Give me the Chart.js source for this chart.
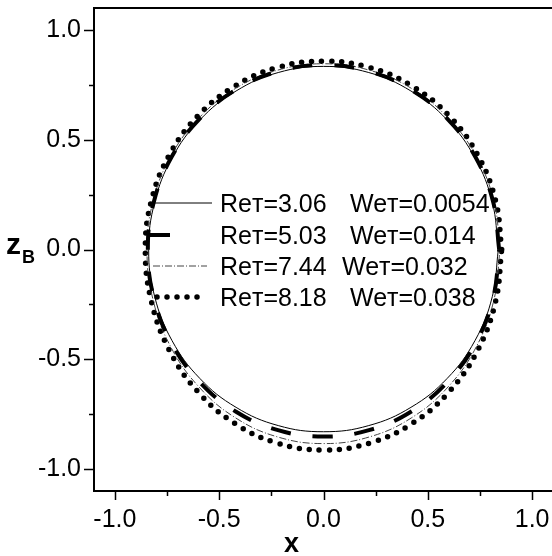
<!DOCTYPE html>
<html>
<head>
<meta charset="utf-8">
<script src="https://cdn.jsdelivr.net/npm/chart.js@4.4.1/dist/chart.umd.min.js"></script>
<style>
  html, body { margin: 0; padding: 0; background: #fff; overflow: hidden; }
  #wrap { position: relative; width: 553px; height: 556px; }
  canvas { display: block; }
  .ttl { position: absolute; font-family: "Liberation Sans", Arial, sans-serif; font-weight: bold; color: #000; line-height: 1; white-space: nowrap; }
</style>
</head>
<body>
<div id="wrap">
  <canvas id="c" width="553" height="556"></canvas>
  <div class="ttl" id="ytitle" style="left:6px; top:229px; font-size:30px;">z<span style="font-size:18px; position:relative; top:9px; left:1px;">B</span></div>
  <div class="ttl" id="xtitle" style="left:284px; top:530px; font-size:27px;">x</div>
</div>
<script>
// ---------- data ----------
const xMajorTicks = [-1.0, -0.5, 0.0, 0.5, 1.0];
const xMinorTicks = [-0.75, -0.25, 0.25, 0.75];
const yMajorTicks = [-1.0, -0.5, 0.0, 0.5, 1.0];
const yMinorTicks = [-0.75, -0.25, 0.25, 0.75];

const seriesNames = ["Reт=3.06", "Reт=5.03", "Reт=7.44", "Reт=8.18"];
const weNames = ["Weт=0.0054", "Weт=0.014", "Weт=0.032", "Weт=0.038"];

// Re=3.06, We=0.0054 (thin solid)
const x1 = [0.838, 0.809, 0.726, 0.593, 0.419, 0.217, 0.000, -0.217, -0.419, -0.593, -0.726, -0.809, -0.838, -0.809, -0.726, -0.593, -0.419, -0.217, 0.000, 0.217, 0.419, 0.593, 0.726, 0.809, 0.838];
const z1 = [0.000, 0.216, 0.417, 0.590, 0.722, 0.806, 0.834, 0.806, 0.722, 0.590, 0.417, 0.216, 0.000, -0.215, -0.415, -0.587, -0.719, -0.802, -0.830, -0.802, -0.719, -0.587, -0.415, -0.215, 0.000];

// Re=5.03, We=0.014 (thick dashed)
const x2 = [0.842, 0.813, 0.729, 0.595, 0.421, 0.218, 0.000, -0.218, -0.421, -0.595, -0.729, -0.813, -0.842, -0.813, -0.729, -0.595, -0.421, -0.218, 0.000, 0.218, 0.421, 0.595, 0.729, 0.813, 0.842];
const z2 = [0.000, 0.217, 0.420, 0.594, 0.727, 0.811, 0.840, 0.811, 0.727, 0.594, 0.420, 0.217, 0.000, -0.221, -0.426, -0.602, -0.738, -0.823, -0.852, -0.823, -0.738, -0.602, -0.426, -0.221, 0.000];

// Re=7.44, We=0.032 (thin dash-dot)
const x3 = [0.846, 0.817, 0.733, 0.598, 0.423, 0.219, 0.000, -0.219, -0.423, -0.598, -0.733, -0.817, -0.846, -0.817, -0.733, -0.598, -0.423, -0.219, 0.000, 0.219, 0.423, 0.598, 0.733, 0.817, 0.846];
const z3 = [0.000, 0.219, 0.423, 0.598, 0.733, 0.817, 0.846, 0.817, 0.733, 0.598, 0.423, 0.219, 0.000, -0.229, -0.442, -0.625, -0.766, -0.854, -0.884, -0.854, -0.766, -0.625, -0.442, -0.229, 0.000];

// Re=8.18, We=0.038 (round dots)
const x4 = [0.854, 0.825, 0.740, 0.604, 0.427, 0.221, 0.000, -0.221, -0.427, -0.604, -0.740, -0.825, -0.854, -0.825, -0.740, -0.604, -0.427, -0.221, 0.000, 0.221, 0.427, 0.604, 0.740, 0.825, 0.854];
const z4 = [0.000, 0.222, 0.429, 0.607, 0.743, 0.829, 0.858, 0.829, 0.743, 0.607, 0.429, 0.222, 0.000, -0.236, -0.457, -0.646, -0.791, -0.882, -0.913, -0.882, -0.791, -0.646, -0.457, -0.236, 0.000];

// ---------- build ----------
const pts = (xs, zs) => xs.map((v, i) => ({ x: v, y: zs[i] }));
const FONT = '"Liberation Sans", Arial, sans-serif';

const datasets = [
  { label: seriesNames[0], data: pts(x1, z1), borderColor: '#000', borderWidth: 1, borderDash: [], borderCapStyle: 'butt' },
  { label: seriesNames[1], data: pts(x2, z2), borderColor: '#000', borderWidth: 4, borderDash: [20, 22], borderCapStyle: 'butt' },
  { label: seriesNames[2], data: pts(x3, z3), borderColor: '#444', borderWidth: 1, borderDash: [7, 2, 1, 2], borderCapStyle: 'butt' },
  { label: seriesNames[3], data: pts(x4, z4), borderColor: '#000', borderWidth: 5.5, borderDash: [0, 10], borderCapStyle: 'round' }
].map(d => Object.assign(d, { showLine: true, fill: false, pointRadius: 0, tension: 0.4 }));

const legendPos = [
  { y: 203, x0: 149, x1: 212, tx: 220, wx: 350 },
  { y: 235, x0: 150, x1: 173, tx: 220, wx: 350 },
  { y: 266, x0: 153, x1: 207, tx: 220, wx: 342 },
  { y: 297, x0: 157, x1: 207, tx: 220, wx: 350 }
];

const framePlugin = {
  id: 'frame',
  afterDraw(chart) {
    const ctx = chart.ctx, a = chart.chartArea;
    const xs = chart.scales.x, ys = chart.scales.y;
    ctx.save();
    ctx.strokeStyle = '#000';
    ctx.lineWidth = 2;
    ctx.setLineDash([]);
    ctx.strokeRect(a.left, a.top, a.right - a.left, a.bottom - a.top);
    ctx.lineWidth = 1.5;
    ctx.beginPath();
    xMajorTicks.forEach(v => { const p = Math.round(xs.getPixelForValue(v)) + 0.5; ctx.moveTo(p, a.bottom); ctx.lineTo(p, a.bottom + 9); });
    xMinorTicks.forEach(v => { const p = Math.round(xs.getPixelForValue(v)) + 0.5; ctx.moveTo(p, a.bottom); ctx.lineTo(p, a.bottom + 5); });
    yMajorTicks.forEach(v => { const p = Math.round(ys.getPixelForValue(v)) + 0.5; ctx.moveTo(a.left, p); ctx.lineTo(a.left - 10, p); });
    yMinorTicks.forEach(v => { const p = Math.round(ys.getPixelForValue(v)) + 0.5; ctx.moveTo(a.left, p); ctx.lineTo(a.left - 5, p); });
    ctx.stroke();
    ctx.restore();
  }
};

const legendPlugin = {
  id: 'insideLegend',
  afterDatasetsDraw(chart) {
    const ctx = chart.ctx;
    ctx.save();
    chart.data.datasets.forEach((d, i) => {
      const L = legendPos[i];
      ctx.strokeStyle = d.borderColor;
      ctx.lineWidth = d.borderWidth;
      ctx.lineCap = d.borderCapStyle;
      ctx.setLineDash(d.borderDash);
      ctx.beginPath();
      ctx.moveTo(L.x0, L.y);
      ctx.lineTo(L.x1, L.y);
      ctx.stroke();
      ctx.setLineDash([]);
      ctx.fillStyle = '#000';
      ctx.font = '25px ' + FONT;
      ctx.textBaseline = 'alphabetic';
      ctx.fillText(seriesNames[i], L.tx, L.y + 9);
      ctx.fillText(weNames[i], L.wx, L.y + 9);
    });
    ctx.restore();
  }
};

new Chart(document.getElementById('c'), {
  type: 'scatter',
  data: { datasets },
  options: {
    responsive: false,
    animation: false,
    layout: { autoPadding: false, padding: { top: 8, right: 0, left: 0, bottom: 0 } },
    plugins: { legend: { display: false }, tooltip: { enabled: false } },
    scales: {
      x: {
        type: 'linear', min: -1.1, max: 1.1,
        afterBuildTicks: s => { s.ticks = xMajorTicks.map(v => ({ value: v })); },
        afterFit: s => { s.height = 65; s.paddingLeft = 0; s.paddingRight = 0; },
        grid: { display: false, drawTicks: false },
        border: { display: false },
        ticks: { color: '#000', font: { family: FONT, size: 25 }, padding: 14, maxRotation: 0, autoSkip: false, callback: v => Number(v).toFixed(1) }
      },
      y: {
        type: 'linear', min: -1.1, max: 1.1,
        afterBuildTicks: s => { s.ticks = yMajorTicks.map(v => ({ value: v })); },
        afterFit: s => { s.width = 94; s.paddingTop = 0; s.paddingBottom = 0; },
        grid: { display: false, drawTicks: false },
        border: { display: false },
        ticks: { color: '#000', font: { family: FONT, size: 25 }, padding: 13, autoSkip: false, callback: v => Number(v).toFixed(1) }
      }
    }
  },
  plugins: [framePlugin, legendPlugin]
});
</script>
</body>
</html>
